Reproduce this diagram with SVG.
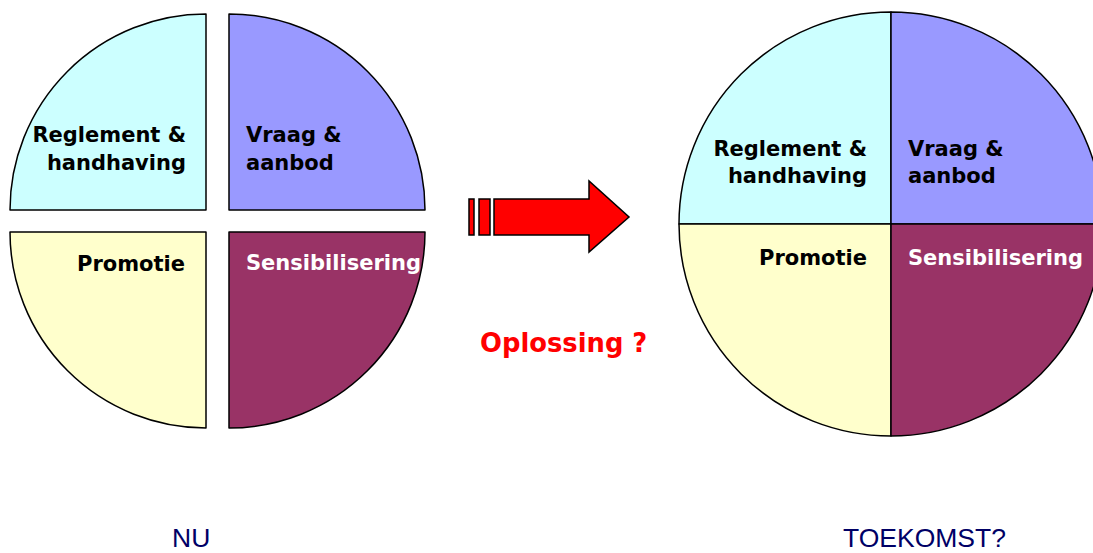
<svg xmlns="http://www.w3.org/2000/svg" width="1093" height="553" viewBox="0 0 1093 553">
<style>
.q{stroke:#000;stroke-width:1.5;stroke-linejoin:round}
.c1{fill:#CCFFFF}.c2{fill:#9999FF}.c3{fill:#FFFFCC}.c4{fill:#993366}
.lb{font-family:"DejaVu Sans",Verdana,sans-serif;font-weight:bold;font-size:21px;fill:#000}
.w{fill:#fff}
.e{text-anchor:end}
.cap{font-family:"Liberation Sans",Arial,sans-serif;font-size:26.5px;fill:#000066}
</style>
<rect width="1093" height="553" fill="#fff"/>
<g id="nu-reglement">
<path class="q c1" d="M206,210 H10 A196,196 0 0 1 206,14 Z"/>
<text class="lb e" x="186" y="142">Reglement &amp;</text>
<text class="lb e" x="186" y="170">handhaving</text>
</g>
<g id="nu-vraag">
<path class="q c2" d="M229,210 V14 A196,196 0 0 1 425,210 Z"/>
<text class="lb" x="246" y="142">Vraag &amp;</text>
<text class="lb" x="246" y="170">aanbod</text>
</g>
<g id="nu-promotie">
<path class="q c3" d="M206,232 H10 A196,196 0 0 0 206,428 Z"/>
<text class="lb e" x="185" y="271">Promotie</text>
</g>
<g id="nu-sensibilisering">
<path class="q c4" d="M229,232 H425 A196,196 0 0 1 229,428 Z"/>
<text class="lb w" x="246" y="270">Sensibilisering</text>
</g>
<g id="toekomst-reglement">
<path class="q c1" d="M891,224 H679 A212,212 0 0 1 891,12 Z"/>
<text class="lb e" x="867" y="156">Reglement &amp;</text>
<text class="lb e" x="867" y="183">handhaving</text>
</g>
<g id="toekomst-vraag">
<path class="q c2" d="M891,224 V12 A212,212 0 0 1 1103,224 Z"/>
<text class="lb" x="908" y="156">Vraag &amp;</text>
<text class="lb" x="908" y="183">aanbod</text>
</g>
<g id="toekomst-promotie">
<path class="q c3" d="M891,224 H679 A212,212 0 0 0 891,436 Z"/>
<text class="lb e" x="867" y="265">Promotie</text>
</g>
<g id="toekomst-sensibilisering">
<path class="q c4" d="M891,224 H1103 A212,212 0 0 1 891,436 Z"/>
<text class="lb w" x="908" y="265">Sensibilisering</text>
</g>
<g id="connectors">
<g id="arrow" fill="#FF0000" stroke="#000" stroke-width="1.5" stroke-linejoin="miter">
<rect x="469" y="199" width="5" height="36"/>
<rect x="479" y="199" width="11" height="36"/>
<polygon points="494,199 589,199 589,181 629,217 589,252 589,235 494,235"/>
</g>
</g>
<text id="oplossing" x="480" y="352" font-family="DejaVu Sans,Verdana,sans-serif" font-weight="bold" font-size="25.8px" fill="#FF0000">Oplossing ?</text>
<text id="label-nu" class="cap" x="172" y="547">NU</text>
<text id="label-toekomst" class="cap" x="843" y="547">TOEKOMST?</text>
</svg>
